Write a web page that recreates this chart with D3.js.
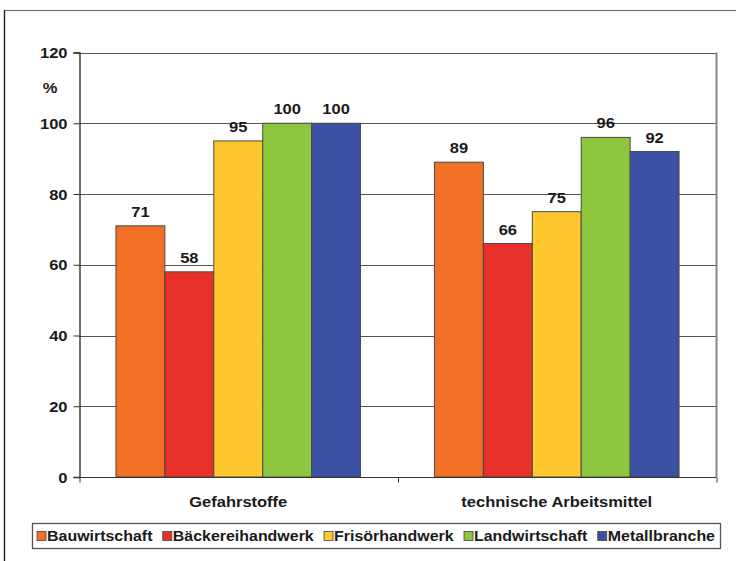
<!DOCTYPE html>
<html><head><meta charset="utf-8">
<script src="https://cdn.jsdelivr.net/npm/d3@7/dist/d3.min.js"></script>
<style>
html,body{margin:0;padding:0;background:#fff;}
text{font-family:"Liberation Sans",Arial,sans-serif;fill:#1a1a1a;}
</style></head>
<body><svg id="c" width="736" height="561"></svg>
<script>
const categories = ["Gefahrstoffe", "technische Arbeitsmittel"];
const seriesNames = ["Bauwirtschaft", "Bäckereihandwerk", "Frisörhandwerk", "Landwirtschaft", "Metallbranche"];
const bauwirtschaft = [71, 89];
const baeckereihandwerk = [58, 66];
const frisoerhandwerk = [95, 75];
const landwirtschaft = [100, 96];
const metallbranche = [100, 92];
const yTicks = [0, 20, 40, 60, 80, 100, 120];
const colors = ["#F26F26", "#E8302A", "#FEC82E", "#8DC63F", "#3A50A2"];

const seriesValues = [bauwirtschaft, baeckereihandwerk, frisoerhandwerk, landwirtschaft, metallbranche];

const svg = d3.select("#c");
const L = 79, R = 716, T = 52.5, B = 477;
const SX = 1.1; // horizontal stretch of the source text

// outer frame
svg.append("rect").attr("x", 4.5).attr("y", 10.5).attr("width", 760).attr("height", 600)
  .attr("fill", "none").attr("stroke", "#777").attr("stroke-width", 1.2);
svg.append("line").attr("x1", 4.5).attr("x2", 4.5).attr("y1", 10).attr("y2", 561)
  .attr("stroke", "#222").attr("stroke-width", 1.3);

const y = d3.scaleLinear().domain([0, 120]).range([B, T]);
const x0 = d3.scaleBand().domain(categories).range([L, R]).paddingInner(0.232).paddingOuter(0.116);
const x1 = d3.scaleBand().domain(seriesNames).range([0, x0.bandwidth()]).padding(0);

// gridlines
svg.append("g").selectAll("line").data(yTicks.filter(t => t > 0)).join("line")
  .attr("x1", L).attr("x2", R).attr("y1", d => Math.round(y(d)) + 0.5).attr("y2", d => Math.round(y(d)) + 0.5)
  .attr("stroke", "#555").attr("stroke-width", 1);

// right border
svg.append("line").attr("x1", R + 0.5).attr("x2", R + 0.5).attr("y1", T).attr("y2", B)
  .attr("stroke", "#888").attr("stroke-width", 2);

// bars
const rows = (c, ci) => seriesNames.map((s, si) => ({s, si, v: seriesValues[si][ci]}));
const groups = svg.append("g").selectAll("g").data(categories).join("g")
  .attr("transform", c => `translate(${x0(c)},0)`);
groups.selectAll("rect").data(rows).join("rect")
  .attr("x", d => x1(d.s)).attr("width", x1.bandwidth())
  .attr("y", d => y(d.v)).attr("height", d => B - y(d.v))
  .attr("fill", d => colors[d.si]).attr("stroke", "#4a4a4a").attr("stroke-width", 1);
groups.selectAll("text").data(rows).join("text")
  .attr("transform", d => `translate(${x1(d.s) + x1.bandwidth() / 2},${y(d.v) - 9}) scale(${SX},1)`)
  .attr("text-anchor", "middle").attr("font-size", 15).attr("font-weight", "bold")
  .text(d => d.v);

// y axis
const yAxis = d3.axisLeft(y).tickValues(yTicks).tickSize(6).tickPadding(0).tickFormat("");
const ya = svg.append("g").attr("transform", `translate(${L + 0.5},0)`).call(yAxis);
ya.select(".domain").attr("stroke", "#222").attr("stroke-width", 1.3);
ya.selectAll(".tick line").attr("stroke", "#333");
ya.selectAll(".tick").append("text")
  .attr("transform", `translate(-12,5) scale(${SX},1)`)
  .attr("text-anchor", "end").attr("font-size", 15).attr("font-weight", "bold")
  .text(d => d);

svg.append("text").attr("transform", `translate(50,93) scale(${SX},1)`).attr("text-anchor", "middle")
  .attr("font-size", 15).attr("font-weight", "bold").text("%");

// x axis
const xAxis = d3.axisBottom(d3.scaleLinear().domain([0, 2]).range([L, R])).tickValues([0, 1, 2]).tickSize(5).tickFormat("");
const xa = svg.append("g").attr("transform", `translate(0.5,${B + 0.5})`).call(xAxis);
xa.select(".domain").attr("stroke", "#333").attr("stroke-width", 1.2).attr("d", `M${L},0H${R}`);
xa.selectAll(".tick line").attr("stroke", "#333");

svg.append("g").selectAll("text").data(categories).join("text")
  .attr("transform", c => `translate(${x0(c) + x0.bandwidth() / 2},507) scale(${SX},1)`)
  .attr("text-anchor", "middle").attr("font-size", 15).attr("font-weight", "bold")
  .text(c => c);

// legend
const lx = 32, ly = 523, lw = 688, lh = 25;
svg.append("rect").attr("x", lx + 0.5).attr("y", ly + 0.5).attr("width", lw).attr("height", lh)
  .attr("fill", "#fff").attr("stroke", "#555").attr("stroke-width", 1.3);
const lg = svg.append("g");
const items = lg.selectAll("g").data(seriesNames).join("g");
items.append("rect").attr("width", 9).attr("height", 9).attr("y", -9.5)
  .attr("fill", (d, i) => colors[i]).attr("stroke", "#444").attr("stroke-width", 0.8);
const LS = 1.14;
items.append("text").attr("transform", `translate(10,0) scale(${LS},1)`)
  .attr("font-size", 14).attr("font-weight", "bold").text(d => d);
let widths = items.nodes().map(n => 10 + LS * n.querySelector("text").getComputedTextLength());
const total = d3.sum(widths);
const gap = Math.max(3, (lw - 10 - total) / (seriesNames.length - 1));
let cx = lx + 5;
items.attr("transform", (d, i) => { const t = `translate(${cx},${ly + 18})`; cx += widths[i] + gap; return t; });
</script></body></html>
